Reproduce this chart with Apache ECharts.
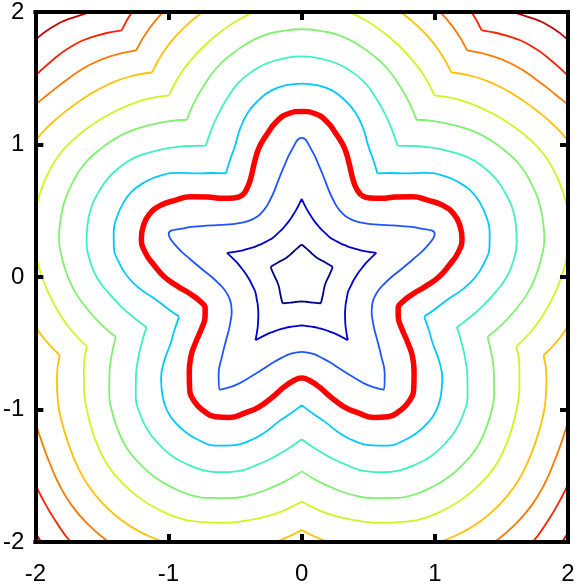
<!DOCTYPE html>
<html>
<head>
<meta charset="utf-8">
<title>Star contours</title>
<script src="https://cdn.jsdelivr.net/npm/echarts@6/dist/echarts.min.js"></script>
<style>
  html, body { margin: 0; padding: 0; background: #fff; }
  #chart { width: 578px; height: 586px; }
</style>
</head>
<body>
<div id="chart"></div>
<script>
// axis ticks, both axes
var axisTicks = [-2, -1, 0, 1, 2];

// angle measured from a lobe tip toward the next valley (deg); tips point at 90, 18, -54, ...
var phiDeg = [0, 4.5, 9, 13.5, 18, 22.5, 27, 31.5, 36];

// radius of each contour at those angles (inner -> outer)
var navyR   = [0.245, 0.231, 0.219, 0.209, 0.201, 0.194, 0.189, 0.186, 0.185];
var blueR   = [0.59, 0.51, 0.462, 0.428, 0.405, 0.388, 0.378, 0.370, 0.366];
var royalR  = [1.05, 0.96, 0.845, 0.75, 0.675, 0.625, 0.59, 0.572, 0.565];
var zeroR   = [1.25, 1.238, 1.19, 1.11, 1.03, 0.93, 0.84, 0.785, 0.762];
var cyanR   = [1.46, 1.452, 1.428, 1.375, 1.305, 1.21, 1.105, 1.032, 0.967];
var tealR   = [1.665, 1.655, 1.635, 1.595, 1.54, 1.46, 1.38, 1.30, 1.225];
var greenR  = [1.87, 1.862, 1.845, 1.805, 1.755, 1.695, 1.62, 1.545, 1.467];
var limeR   = [2.065, 2.058, 2.04, 2.0, 1.95, 1.895, 1.835, 1.77, 1.695];
var goldR   = [2.28, 2.272, 2.25, 2.21, 2.16, 2.11, 2.055, 1.99, 1.91];
var orangeR = [2.47, 2.462, 2.44, 2.40, 2.35, 2.305, 2.26, 2.195, 2.115];
var redR    = [2.66, 2.65, 2.61, 2.565, 2.52, 2.49, 2.455, 2.39, 2.30];
var maroonR = [2.86, 2.845, 2.79, 2.75, 2.72, 2.69, 2.66, 2.59, 2.50];

// where each line has its corners: 'tip', 'valley' or none
var levels = [
  { r: navyR,   color: '#000088', width: 1.8, corner: 'tip' },
  { r: blueR,   color: '#0000cc', width: 1.8, corner: 'tip' },
  { r: royalR,  color: '#1f55ff', width: 1.8, corner: null },
  { r: zeroR,   color: '#ff0000', width: 5.5, corner: null },
  { r: cyanR,   color: '#00c8ff', width: 1.8, corner: 'valley' },
  { r: tealR,   color: '#40f0c0', width: 1.8, corner: 'valley' },
  { r: greenR,  color: '#80f070', width: 1.8, corner: 'valley' },
  { r: limeR,   color: '#d0f520', width: 1.8, corner: 'valley' },
  { r: goldR,   color: '#ffc000', width: 1.8, corner: 'valley' },
  { r: orangeR, color: '#ff7800', width: 1.8, corner: 'valley' },
  { r: redR,    color: '#ff2000', width: 1.8, corner: 'valley' },
  { r: maroonR, color: '#c00000', width: 1.8, corner: 'valley' }
];

// walk the five lobes clockwise, starting at the top tip
function ring(rs) {
  var seq = [];
  for (var k = 0; k < 5; k++) {
    var tip = 90 - 72 * k;
    for (var i = 0; i < rs.length; i++) seq.push([tip - phiDeg[i], rs[i]]);
    for (var j = rs.length - 2; j > 0; j--) seq.push([tip - 72 + phiDeg[j], rs[j]]);
  }
  return seq;
}

// x/y points for the line series; pieces are broken at the corners so smoothing keeps them sharp
function contourData(rs, corner) {
  var seq = ring(rs);
  var n = seq.length;
  var per = n / 5;
  var off = corner === 'tip' ? 0 : per / 2;
  var out = [];
  for (var k = 0; k < 5; k++) {
    for (var j = 0; j <= per; j++) {
      var p = seq[(off + per * k + j) % n];
      var a = p[0] * Math.PI / 180;
      out.push([p[1] * Math.cos(a), p[1] * Math.sin(a)]);
    }
    if (corner) {
      out.push(['-', '-']);
    } else if (k < 4) {
      out.pop();
    }
  }
  return out;
}

var chart = echarts.init(document.getElementById('chart'));

var frameLine = { color: '#000', width: 4, cap: 'square' };
var frameTick = { inside: true, length: 8, lineStyle: { color: '#000', width: 4 } };
var tickLabel = { color: '#000', fontSize: 24, fontFamily: 'Liberation Sans' };

function axis(position, labels, margin) {
  return {
    type: 'value',
    position: position,
    min: axisTicks[0],
    max: axisTicks[axisTicks.length - 1],
    interval: axisTicks[1] - axisTicks[0],
    z: 10,
    axisLine: { show: true, onZero: false, lineStyle: frameLine },
    axisTick: frameTick,
    splitLine: { show: false },
    axisLabel: labels ? Object.assign({ margin: margin }, tickLabel) : { show: false }
  };
}

chart.setOption({
  animation: false,
  grid: { left: 35, top: 10, width: 533, height: 535 },
  xAxis: [axis('bottom', true, 20), axis('top', false)],
  yAxis: [axis('left', true, 11), axis('right', false)],
  series: levels.map(function (lv) {
    return {
      type: 'line',
      data: contourData(lv.r, lv.corner),
      smooth: 0.5,
      showSymbol: false,
      silent: true,
      clip: true,
      connectNulls: false,
      lineStyle: { color: lv.color, width: lv.width }
    };
  })
});
</script>
</body>
</html>
